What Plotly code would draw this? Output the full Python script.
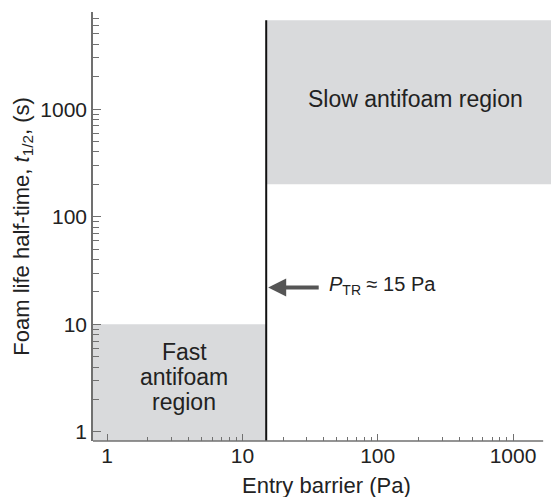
import numpy as np
import plotly.graph_objects as go

# ---- data ----
transition_pressure = 15          # Pa, P_TR
transition_top = 6700             # top of vertical boundary line (s)
fast_region_top = 10              # s
slow_region_bottom = 200          # s
slow_region_top = 6700            # s
x_major_ticks = [1, 10, 100, 1000]
x_major_labels = ["1", "10", "100", "1000"]
y_major_ticks = [1, 10, 100, 1000]
y_major_labels = ["1", "10", "100", "1000"]
x_minor_ticks = [m * d for d in (1, 10, 100) for m in range(2, 10)]
y_minor_ticks = [m * d for d in (1, 10, 100) for m in range(2, 10)] + [2000, 3000, 4000, 5000, 6000, 7000, 8000]

x_range_log = [-0.104, 3.34]
y_range_log = [-0.084, 3.903]
x_min, x_max = 10 ** x_range_log[0], 10 ** x_range_log[1]
y_min, y_max = 10 ** y_range_log[0], 10 ** y_range_log[1]

FONT = "Liberation Sans, Arial, sans-serif"
GREY = "#d9dadc"
AXIS = "#707070"
TXT = "#222222"

fig = go.Figure()

# fast antifoam region
fig.add_trace(go.Scatter(
    x=[x_min, transition_pressure, transition_pressure, x_min],
    y=[y_min, y_min, fast_region_top, fast_region_top],
    fill="toself", fillcolor=GREY, line=dict(width=0), mode="lines",
    hoverinfo="skip", showlegend=False))

# slow antifoam region
fig.add_trace(go.Scatter(
    x=[transition_pressure, x_max, x_max, transition_pressure],
    y=[slow_region_bottom, slow_region_bottom, slow_region_top, slow_region_top],
    fill="toself", fillcolor=GREY, line=dict(width=0), mode="lines",
    hoverinfo="skip", showlegend=False))

# transition line
fig.add_trace(go.Scatter(
    x=[transition_pressure, transition_pressure],
    y=[y_min, transition_top],
    mode="lines", line=dict(color="#111111", width=2),
    hoverinfo="skip", showlegend=False))

fig.update_xaxes(
    type="log", range=x_range_log, automargin=False,
    tickvals=x_major_ticks, ticktext=x_major_labels,
    ticks="inside", ticklen=7, tickwidth=1.3, tickcolor=AXIS,
    minor=dict(tickvals=x_minor_ticks, ticks="inside", ticklen=4,
               tickwidth=1, tickcolor=AXIS, showgrid=False),
    showline=False, showgrid=False, zeroline=False,
    tickfont=dict(family=FONT, size=21, color=TXT),
)
fig.update_yaxes(
    type="log", range=y_range_log, automargin=False,
    tickvals=y_major_ticks, ticktext=y_major_labels,
    ticks="inside", ticklen=8, tickwidth=1.3, tickcolor=AXIS,
    minor=dict(tickvals=y_minor_ticks, ticks="inside", ticklen=6,
               tickwidth=1, tickcolor=AXIS, showgrid=False),
    showline=True, linecolor=AXIS, linewidth=1.5,
    showgrid=False, zeroline=False,
    tickfont=dict(family=FONT, size=21, color=TXT),
)

# x axis baseline (ends a little after 1000)
fig.add_shape(type="line", xref="paper", yref="paper",
              x0=0, x1=0.966, y0=0, y1=0,
              line=dict(color=AXIS, width=1.5))

annos = [
    dict(x=np.log10(190), y=np.log10(1240), text="Slow antifoam region",
         showarrow=False, font=dict(family=FONT, size=23, color=TXT)),
    dict(x=np.log10(3.71), y=np.log10(5.56), text="Fast",
         showarrow=False, font=dict(family=FONT, size=23, color=TXT)),
    dict(x=np.log10(3.71), y=np.log10(3.22), text="antifoam",
         showarrow=False, font=dict(family=FONT, size=23, color=TXT)),
    dict(x=np.log10(3.71), y=np.log10(1.88), text="region",
         showarrow=False, font=dict(family=FONT, size=23, color=TXT)),
    # arrow pointing to the transition line
    dict(x=np.log10(transition_pressure), y=np.log10(22), text="",
         showarrow=True, arrowhead=2, arrowsize=0.9, arrowwidth=4,
         arrowcolor="#555555", ax=54, ay=0, standoff=2),
    dict(x=np.log10(transition_pressure), y=np.log10(22),
         text="<i>P</i><sub>TR</sub> ≈ 15 Pa",
         xanchor="left", xshift=61, yshift=2,
         showarrow=False, font=dict(family=FONT, size=20, color=TXT)),
    # axis titles
    dict(xref="paper", yref="paper", x=0.5, y=-0.104, yanchor="middle",
         text="Entry barrier (Pa)", showarrow=False,
         font=dict(family=FONT, size=22, color=TXT)),
    dict(xref="paper", yref="paper", x=-0.152, y=0.5, textangle=-90,
         xanchor="center", yanchor="middle",
         text="Foam life half-time, <i>t</i><sub>1/2</sub>, (s)",
         showarrow=False, font=dict(family=FONT, size=22, color=TXT)),
]
for a in annos:
    fig.add_annotation(**a)

# the page body adds an 8px offset, so the figure is sized to compensate
fig.update_layout(
    width=551, height=489,
    margin=dict(l=85, r=0, t=4, b=56, autoexpand=False),
    paper_bgcolor="white", plot_bgcolor="white",
    showlegend=False,
)

fig.write_html("out.html")
